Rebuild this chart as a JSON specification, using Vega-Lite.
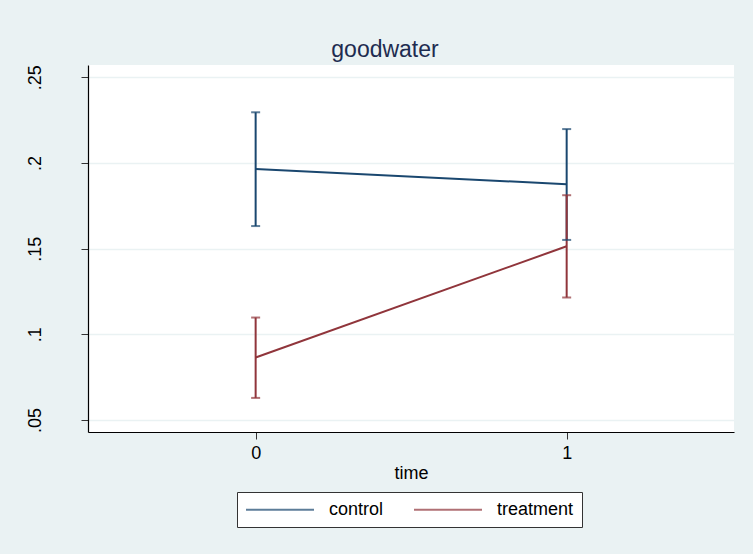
{
  "$schema": "https://vega.github.io/schema/vega-lite/v6.json",
  "width": 646,
  "height": 367,
  "autosize": {"type": "none"},
  "padding": {"left": 88, "top": 65, "right": 19, "bottom": 122},
  "background": "#eaf2f3",
  "title": {
    "text": "goodwater",
    "font": "Liberation Sans",
    "fontSize": 23,
    "fontWeight": "normal",
    "color": "#1e2c50",
    "anchor": "middle",
    "baseline": "alphabetic",
    "offset": 6,
    "dx": -26,
    "dy": 21
  },
  "data": {
    "values": [
      {"group": "control", "time": 0, "mean": 0.1965, "lo": 0.1632, "hi": 0.2296},
      {"group": "control", "time": 1, "mean": 0.1876, "lo": 0.1551, "hi": 0.2198},
      {"group": "treatment", "time": 0, "mean": 0.0865, "lo": 0.0629, "hi": 0.1098},
      {"group": "treatment", "time": 1, "mean": 0.1514, "lo": 0.1215, "hi": 0.1812}
    ]
  },
  "encoding": {
    "x": {
      "field": "time",
      "type": "quantitative",
      "scale": {"domain": [-0.539, 1.538], "nice": false, "zero": false},
      "axis": {
        "values": [0, 1],
        "title": "time",
        "grid": false,
        "format": "d",
        "labelPadding": 5,
        "titlePadding": 2
      }
    },
    "color": {
      "field": "group",
      "type": "nominal",
      "scale": {"domain": ["control", "treatment"], "range": ["#1a476f", "#90353b"]},
      "legend": {
        "title": null,
        "orient": "none",
        "legendX": 149,
        "legendY": 427,
        "direction": "horizontal",
        "symbolType": "M-1,0H7",
        "symbolSize": 289,
        "symbolStrokeWidth": 2,
        "labelFontSize": 18,
        "labelFont": "Liberation Sans",
        "labelColor": "#000000",
        "labelOffset": 65,
        "columnPadding": 26,
        "padding": 8,
        "strokeColor": "#333333",
        "fillColor": "#ffffff"
      }
    }
  },
  "layer": [
    {
      "mark": {"type": "line", "strokeWidth": 2},
      "encoding": {
        "y": {
          "field": "mean",
          "type": "quantitative",
          "scale": {"domain": [0.043, 0.2572], "nice": false, "zero": false},
          "axis": {
            "values": [0.05, 0.1, 0.15, 0.2, 0.25],
            "title": null,
            "grid": true,
            "labelExpr": "replace(format(datum.value, '.2~f'), '0.', '.')",
            "labelAngle": 270,
            "labelAlign": "center",
            "labelBaseline": "alphabetic",
            "labelPadding": 41
          }
        }
      }
    },
    {
      "mark": {"type": "rule", "strokeWidth": 2},
      "encoding": {
        "y": {"field": "lo", "type": "quantitative"},
        "y2": {"field": "hi"}
      }
    },
    {
      "mark": {"type": "tick", "orient": "horizontal", "size": 9, "thickness": 2},
      "encoding": {"y": {"field": "lo", "type": "quantitative"}}
    },
    {
      "mark": {"type": "tick", "orient": "horizontal", "size": 9, "thickness": 2},
      "encoding": {"y": {"field": "hi", "type": "quantitative"}}
    }
  ],
  "config": {
    "view": {"fill": "#ffffff", "stroke": null},
    "axis": {
      "labelFont": "Liberation Sans",
      "labelFontSize": 18,
      "labelColor": "#000000",
      "titleFont": "Liberation Sans",
      "titleFontSize": 18,
      "titleFontWeight": "normal",
      "titleColor": "#000000",
      "domainColor": "#000000",
      "domainWidth": 1.2,
      "tickColor": "#333333",
      "tickSize": 7,
      "tickWidth": 1,
      "gridColor": "#eaf2f3",
      "gridWidth": 1.5
    }
  }
}
